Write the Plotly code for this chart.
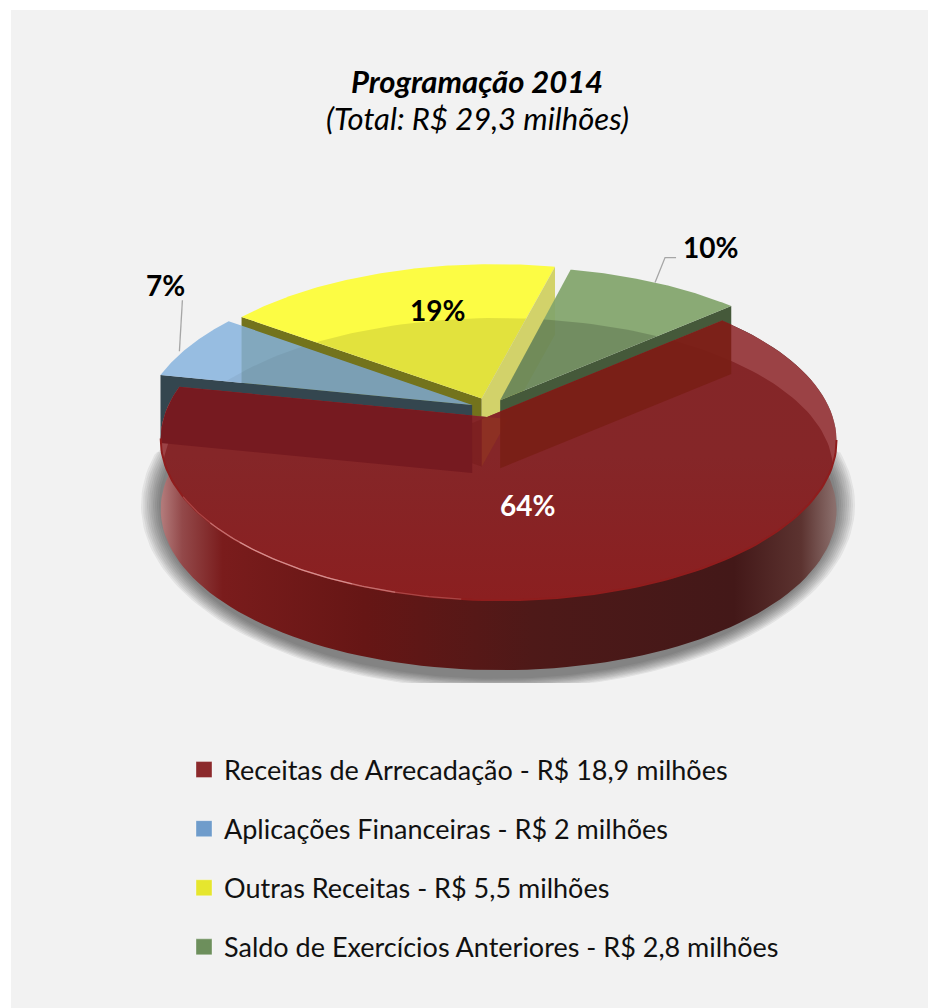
import numpy as np
import plotly.graph_objects as go

# ---- data ----
categories = ["Receitas de Arrecadação - R$ 18,9 milhões",
              "Aplicações Financeiras - R$ 2 milhões",
              "Outras Receitas - R$ 5,5 milhões",
              "Saldo de Exercícios Anteriores - R$ 2,8 milhões"]
values = [18.9, 2.0, 5.5, 2.8]
percent_labels = ["64%", "7%", "19%", "10%"]
legend_colors = ["#8c2a2c", "#6f9ccb", "#e6e62e", "#6d8f5c"]

# ---- view / style ----
START_DEG = 41.2
EXPLODE = [(0, 0), (-0.045, 0.078), (-0.016, 0.12), (0.04, 0.108)]
RADIUS = [1.0, 1.03, 1.015, 1.0]
XC, YC, A, B, K, M = 487.0, 417.0, 334.0, 156.7, 0.144, 0.034
H = 68.0
FONT = "Lato"


def proj(u, v, drop=0.0):
    u, v = np.asarray(u, float), np.asarray(v, float)
    t = 1 - M * u + K * v
    return XC + A * u / t, YC - B * v / t + drop


spans = np.array(values) / sum(values) * 360.0
edges = START_DEG - np.concatenate([[0], np.cumsum(spans)])  # clockwise


def arc(a0, a1, off=(0, 0), drop=0.0, n=120, r=1.0):
    th = np.radians(np.linspace(a0, a1, n))
    return proj(off[0] + r * np.cos(th), off[1] + r * np.sin(th), drop)


def wedge(i):
    ax, ay = proj(EXPLODE[i][0], EXPLODE[i][1])
    x, y = arc(edges[i], edges[i + 1], EXPLODE[i], r=RADIUS[i])
    return np.r_[ax, x, ax], np.r_[ay, y, ay]


def side(i, at_end):
    """Flat cut face of slice i, from the centre to one rim end, full height."""
    ax, ay = proj(EXPLODE[i][0], EXPLODE[i][1])
    a = edges[i + 1] if at_end else edges[i]
    x, y = arc(a, a, EXPLODE[i], n=1, r=RADIUS[i])
    rx, ry = x[0], y[0]
    return np.array([ax, rx, rx, ax, ax]), np.array([ay, ry, ry + H, ay + H, ay])


def halfclip(px, py, a, b, ref):
    def sd(p):
        return (b[0] - a[0]) * (p[1] - a[1]) - (b[1] - a[1]) * (p[0] - a[0])
    s = np.sign(sd(ref))
    ox, oy = [], []
    n = len(px)
    for i in range(n):
        p, q = (px[i], py[i]), (px[(i + 1) % n], py[(i + 1) % n])
        dp, dq = sd(p) * s, sd(q) * s
        if dp >= 0:
            ox.append(p[0]); oy.append(p[1])
        if dp * dq < 0:
            f = dp / (dp - dq)
            ox.append(p[0] + f * (q[0] - p[0])); oy.append(p[1] + f * (q[1] - p[1]))
    return np.array(ox), np.array(oy)


def clip_convex(px, py, cx, cy):
    c = (float(np.mean(cx)), float(np.mean(cy)))
    for i in range(0, len(cx) - 1):
        if len(px) == 0:
            break
        px, py = halfclip(px, py, (cx[i], cy[i]), (cx[i + 1], cy[i + 1]), c)
    return px, py


fig = go.Figure()


def poly(x, y, color=None, grad=None):
    kw = dict(x=list(x) + [x[0]] if len(x) else [], y=list(y) + [y[0]] if len(y) else [],
              mode="lines", line=dict(width=0), fill="toself", hoverinfo="skip", showlegend=False)
    if grad:
        kw["fillgradient"] = grad
    else:
        kw["fillcolor"] = color
    fig.add_trace(go.Scatter(**kw))


def rim_line(x, y, color, width):
    fig.add_trace(go.Scatter(x=x, y=y, mode="lines", line=dict(color=color, width=width),
                             hoverinfo="skip", showlegend=False))


# full disc outline, and the soft inner arc that runs across the slices
ex, ey = arc(0, 360, n=240)
t2 = np.radians(np.linspace(0, 360, 240))
e2x, e2y = 498 + 335 * np.cos(t2), 470 - 152 * np.sin(t2)

# drop shadow
for i in range(10):
    g = 21 - i * 2.0
    sx = 498 + (336 + g) * np.cos(t2)
    sy = 505 + (172 + g * 0.6) * np.sin(t2)
    top = 425 + (9 - i) * 3
    poly(sx, np.clip(sy, top, 683), "rgba(40,40,40,0.075)")

# slice faces, back to front
blue_face = side(1, False)
yellow_left = side(2, False)
yellow_right = side(2, True)
poly(yellow_left[0], yellow_left[1], "#73731c")
poly(blue_face[0], blue_face[1], "#34464f")
wx, wy = wedge(1)
poly(wx, wy, "rgba(133,179,222,0.84)")
wx, wy = wedge(2)
poly(wx, wy, "#fcfc44")
poly(yellow_right[0], yellow_right[1], "#d2d26a")
green_face = side(3, True)
poly(green_face[0], green_face[1], "#45593a")
wx, wy = wedge(3)
poly(wx, wy, "rgba(130,165,108,0.93)")
for i, col in ((1, "rgba(0,0,0,0.05)"), (2, "rgba(0,0,0,0.10)"), (3, "rgba(0,0,0,0.17)")):
    wx, wy = wedge(i)
    cx, cy = clip_convex(wx[:-1], wy[:-1], e2x, e2y)
    poly(cx, cy, col)

# the large slice: wall, top, gloss
wall_x, wall_y = arc(edges[0], edges[1])
wbx, wby = arc(edges[1], edges[0], drop=H + 2)
wall_grad = dict(type="horizontal", colorscale=[
    [0, "#b27a7a"], [0.03, "#93494a"], [0.09, "#7a1c1c"], [0.3, "#661615"], [0.55, "#4e1918"],
    [0.85, "#431818"], [0.95, "#5c3330"], [1, "#8b6f6c"]], start=162, stop=835)
poly(np.r_[wall_x, wbx], np.r_[wall_y, wby], grad=wall_grad)

rx, ry = wedge(0)
poly(rx, ry, "#9b4245")
cx, cy = clip_convex(rx[:-1], ry[:-1], e2x, e2y)
poly(cx, cy, grad=dict(type="vertical", colorscale=[[0, "#842628"], [0.45, "#852628"], [1, "#8b1f20"]],
                       start=340, stop=600))

# cut faces seen through the glossy top
cap = proj(0, 0)
lx, ly = arc(edges[1], edges[1], n=1)
r2x, r2y = arc(edges[0], edges[0], n=1)
left_line = ((float(cap[0]), float(cap[1])), (lx[0], ly[0]))
right_line = ((float(cap[0]), float(cap[1])), (r2x[0], r2y[0]))
inside = (498.0, 560.0)
for face, col, lines in ((yellow_left, "rgba(120,28,28,0.6)", [left_line, right_line]),
                         (blue_face, "rgba(118,26,32,1)", [left_line]),
                         (yellow_right, "rgba(142,50,34,0.9)", [left_line, right_line]),
                         (green_face, "rgba(122,30,22,0.92)", [right_line])):
    fx, fy = clip_convex(face[0][:-1], face[1][:-1], ex, ey)
    for a, b in lines:
        fx, fy = halfclip(fx, fy, a, b, inside)
    poly(fx, fy, col)

bx, by = arc(-8, -172)
rim_line(bx, by, "#8f1d1d", 2)
for d0, d1, col in ((135, 192, "rgba(245,190,190,0.25)"), (145, 182, "rgba(245,190,190,0.35)"),
                    (152, 174, "rgba(250,205,205,0.35)")):
    hx, hy = arc(edges[0] - d0, edges[0] - d1)
    rim_line(hx, hy, col, 1.3)

# leader lines, anchored on the mid-angle of the two outside labels
for i, (dx0, dy0, dx1, dy1, dx2, dy2) in ((1, (-10, 5, -7, -46, -7, -46)), (3, (0, 0, 10, -25, 21, -25))):
    mid = (edges[i] + edges[i + 1]) / 2
    mx, my = arc(mid, mid, EXPLODE[i], n=1, r=RADIUS[i])
    rim_line([mx[0] + dx0, mx[0] + dx1, mx[0] + dx2], [my[0] + dy0, my[0] + dy1, my[0] + dy2], "#a6a6a6", 1.3)

# legend entries
for name, col in zip(categories, legend_colors):
    fig.add_trace(go.Scatter(x=[None], y=[None], mode="markers", name=name, legendgroup=name,
                             marker=dict(symbol="square", size=17, color=col,
                                         line=dict(color="rgba(255,255,255,0.35)", width=1))))

label_pos = [(527, 505, "white"), (165, 285, "black"), (437, 310, "black"), (710, 247, "black")]
annots = [dict(x=p[0], y=p[1], xref="x", yref="y", text=f"<b>{t}</b>", showarrow=False,
               font=dict(family=FONT, size=28, color=p[2]))
          for t, p in zip(percent_labels, label_pos)]
annots.append(dict(x=477, y=118, xref="x", yref="y", text="<i>(Total: R$ 29,3 milhões)</i>", showarrow=False,
                   font=dict(family=FONT, size=31, color="black")))

fig.update_layout(
    width=928, height=1008, autosize=False,
    margin=dict(l=0, r=0, t=0, b=0),
    paper_bgcolor="white", plot_bgcolor="#f2f2f2",
    xaxis=dict(range=[11, 928], domain=[11 / 928, 1], visible=False, fixedrange=True),
    yaxis=dict(range=[1008, 10], domain=[0, 1 - 10 / 1008], visible=False, fixedrange=True),
    title=dict(text="<b><i>Programação 2014</i></b>",
               x=477 / 928, xanchor="center", y=1 - 71 / 1008, yanchor="top",
               font=dict(family=FONT, size=31, color="black")),
    annotations=annots,
    legend=dict(x=184 / 928, y=1 - 745.5 / 1008, xanchor="left", yanchor="top",
                bgcolor="rgba(0,0,0,0)", font=dict(family=FONT, size=27, color="#111111"),
                tracegroupgap=21, itemclick=False, itemdoubleclick=False),
    showlegend=True,
)

fig.write_html("out.html", post_script="document.body.style.margin='0';", config=dict(displayModeBar=False))
